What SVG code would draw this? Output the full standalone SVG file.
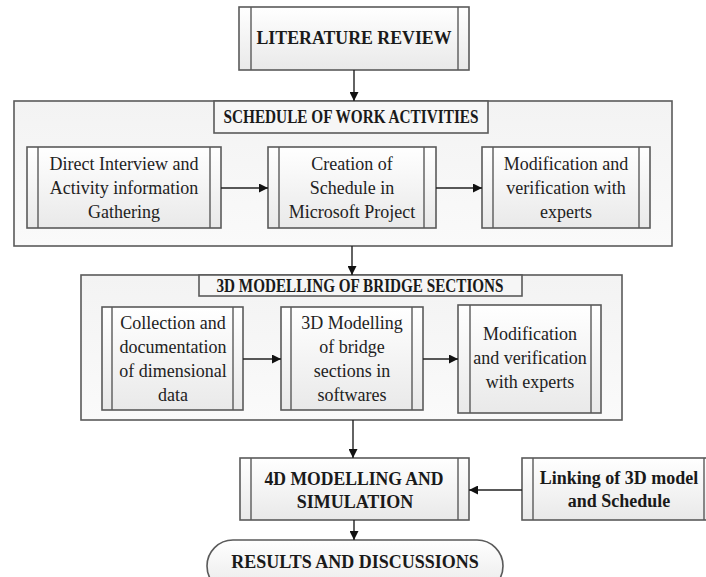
<svg xmlns="http://www.w3.org/2000/svg" width="706" height="577" viewBox="0 0 706 577" font-family="'Liberation Serif', 'Times New Roman', 'DejaVu Serif', serif">
<defs>
<linearGradient id="g" x1="0" y1="0" x2="0" y2="1">
<stop offset="0" stop-color="#ffffff"/>
<stop offset="1" stop-color="#e9e9e9"/>
</linearGradient>
<linearGradient id="go" x1="0" y1="0" x2="0" y2="1">
<stop offset="0" stop-color="#f3f3f3"/>
<stop offset="1" stop-color="#fafafa"/>
</linearGradient>
<marker id="ah" viewBox="0 0 10 10" refX="10" refY="5" markerWidth="9" markerHeight="9" markerUnits="userSpaceOnUse" orient="auto">
<path d="M0,0 L10,5 L0,10 Z" fill="#111"/>
</marker>
<style>
.box{fill:url(#g);stroke:#5a5a5a;stroke-width:1.6}
.outer{fill:url(#go);stroke:#5a5a5a;stroke-width:1.6}
.ttl{fill:#f6f6f6;stroke:#5a5a5a;stroke-width:1.6}
.in{stroke:#5a5a5a;stroke-width:1.4}
text{font-family:'Liberation Serif','Times New Roman','DejaVu Serif',serif}
.t{font-size:18px;fill:#222;text-anchor:middle}
.b{font-size:18px;font-weight:bold;fill:#1a1a1a;text-anchor:middle}
.c{stroke:#222;stroke-width:1.4;fill:none;marker-end:url(#ah)}
</style>
</defs>

<g id="literature">
<rect class="box" x="239" y="7" width="230" height="63"/>
<line class="in" x1="251" y1="7" x2="251" y2="70"/>
<line class="in" x1="458" y1="7" x2="458" y2="70"/>
<text class="b" x="354" y="44" font-size="19" textLength="195" lengthAdjust="spacingAndGlyphs">LITERATURE REVIEW</text>
</g>

<g id="schedule">
<rect class="outer" x="14" y="101" width="658" height="145"/>
<rect class="ttl" x="214" y="101" width="274" height="32"/>
<text class="b" x="351" y="123" textLength="255" lengthAdjust="spacingAndGlyphs">SCHEDULE OF WORK ACTIVITIES</text>
</g>

<g id="interview">
<rect class="box" x="27" y="147" width="194" height="81"/>
<line class="in" x1="38" y1="147" x2="38" y2="228"/>
<line class="in" x1="210" y1="147" x2="210" y2="228"/>
<text class="t" x="124" y="170">Direct Interview and</text>
<text class="t" x="124" y="194">Activity information</text>
<text class="t" x="124" y="218">Gathering</text>
</g>

<g id="creation">
<rect class="box" x="268" y="147" width="168" height="81"/>
<line class="in" x1="279" y1="147" x2="279" y2="228"/>
<line class="in" x1="424" y1="147" x2="424" y2="228"/>
<text class="t" x="352" y="170">Creation of</text>
<text class="t" x="352" y="194">Schedule in</text>
<text class="t" x="352" y="218">Microsoft Project</text>
</g>

<g id="modif1">
<rect class="box" x="482" y="147" width="168" height="81"/>
<line class="in" x1="493" y1="147" x2="493" y2="228"/>
<line class="in" x1="639" y1="147" x2="639" y2="228"/>
<text class="t" x="566" y="170">Modification and</text>
<text class="t" x="566" y="194">verification with</text>
<text class="t" x="566" y="218">experts</text>
</g>

<g id="modelling3d">
<rect class="outer" x="81" y="275" width="541" height="145"/>
<rect class="ttl" x="199" y="275" width="323" height="21"/>
<text class="b" x="360" y="292" font-size="17" textLength="287" lengthAdjust="spacingAndGlyphs">3D MODELLING OF BRIDGE SECTIONS</text>
</g>

<g id="collection">
<rect class="box" x="102" y="307" width="141" height="103"/>
<line class="in" x1="112" y1="307" x2="112" y2="410"/>
<line class="in" x1="233" y1="307" x2="233" y2="410"/>
<text class="t" x="173" y="329">Collection and</text>
<text class="t" x="173" y="353">documentation</text>
<text class="t" x="173" y="377">of dimensional</text>
<text class="t" x="173" y="401">data</text>
</g>

<g id="model3d">
<rect class="box" x="281" y="307" width="142" height="103"/>
<line class="in" x1="291" y1="307" x2="291" y2="410"/>
<line class="in" x1="412" y1="307" x2="412" y2="410"/>
<text class="t" x="352" y="329">3D Modelling</text>
<text class="t" x="352" y="353">of bridge</text>
<text class="t" x="352" y="377">sections in</text>
<text class="t" x="352" y="401">softwares</text>
</g>

<g id="modif2">
<rect class="box" x="458" y="305" width="143" height="108"/>
<line class="in" x1="470" y1="305" x2="470" y2="413"/>
<line class="in" x1="591" y1="305" x2="591" y2="413"/>
<text class="t" x="530" y="340">Modification</text>
<text class="t" x="530" y="364">and verification</text>
<text class="t" x="530" y="388">with experts</text>
</g>

<g id="modelling4d">
<rect class="box" x="240" y="458" width="229" height="62"/>
<line class="in" x1="251" y1="458" x2="251" y2="520"/>
<line class="in" x1="458" y1="458" x2="458" y2="520"/>
<text class="b" x="354" y="485" textLength="179" lengthAdjust="spacingAndGlyphs">4D MODELLING AND</text>
<text class="b" x="355" y="508">SIMULATION</text>
</g>

<g id="linking">
<rect class="box" x="522" y="458" width="194" height="62"/>
<line class="in" x1="533" y1="458" x2="533" y2="520"/>
<line class="in" x1="704" y1="458" x2="704" y2="520"/>
<text class="b" x="619" y="484">Linking of 3D model</text>
<text class="b" x="619" y="507">and Schedule</text>
</g>

<g id="results">
<rect class="box" x="207" y="540" width="296" height="52" rx="26" ry="26"/>
<text class="b" x="355" y="568">RESULTS AND DISCUSSIONS</text>
</g>

<g id="connectors">
<line class="c" x1="354" y1="70" x2="354" y2="101"/>
<line class="c" x1="221" y1="188" x2="268" y2="188"/>
<line class="c" x1="436" y1="188" x2="482" y2="188"/>
<line class="c" x1="352" y1="246" x2="352" y2="275"/>
<line class="c" x1="243" y1="359" x2="281" y2="359"/>
<line class="c" x1="423" y1="359" x2="458" y2="359"/>
<line class="c" x1="353" y1="420" x2="353" y2="458"/>
<line class="c" x1="354" y1="520" x2="354" y2="540"/>
<line class="c" x1="522" y1="490" x2="469" y2="490"/>
</g>
</svg>
